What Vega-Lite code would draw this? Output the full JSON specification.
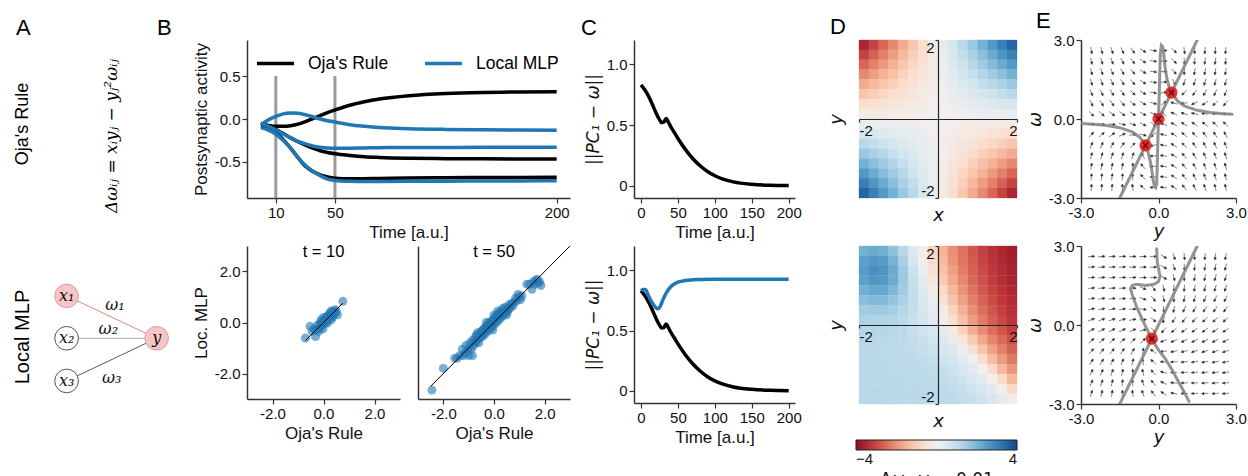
{
"$schema": "https://vega.github.io/schema/vega-lite/v6.json",
"background": "white",
"padding": {"left": 0, "top": 10, "right": 0, "bottom": 0},
"columns": 5,
"align": "each",
"bounds": "flush",
"spacing": {"row": 48, "column": 64},
"resolve": {"scale": {"fill": "independent", "stroke": "independent", "color": "independent"}, "legend": {"fill": "independent", "stroke": "independent", "color": "independent"}},
"config": {
  "view": {"stroke": null},
  "locale": {"number": {"decimal": ".", "thousands": ",", "grouping": [3], "currency": ["$", ""], "minus": "-"}},
  "axis": {"grid": false, "domainColor": "#333", "domainWidth": 1.5, "tickColor": "#333", "tickWidth": 1.2, "tickSize": 5, "labelFont": "Liberation Sans", "titleFont": "Liberation Sans", "labelFontSize": 15, "titleFontSize": 17, "titleFontWeight": "normal", "labelColor": "#111", "titleColor": "#111", "labelFlush": false, "labelOverlap": false},
  "title": {"font": "Liberation Sans", "fontSize": 22, "fontWeight": "normal", "color": "#000", "anchor": "start", "frame": "group"},
  "text": {"font": "Liberation Sans"}
},
"datasets": {
"act": [
{"m":"Oja's Rule","s":"o1","t":0,"v":-0.06},{"m":"Oja's Rule","s":"o1","t":5,"v":-0.075},{"m":"Oja's Rule","s":"o1","t":10,"v":-0.085},{"m":"Oja's Rule","s":"o1","t":15,"v":-0.085},{"m":"Oja's Rule","s":"o1","t":20,"v":-0.078},{"m":"Oja's Rule","s":"o1","t":25,"v":-0.06},{"m":"Oja's Rule","s":"o1","t":30,"v":-0.03},{"m":"Oja's Rule","s":"o1","t":35,"v":0.005},{"m":"Oja's Rule","s":"o1","t":40,"v":0.04},{"m":"Oja's Rule","s":"o1","t":45,"v":0.075},{"m":"Oja's Rule","s":"o1","t":50,"v":0.105},{"m":"Oja's Rule","s":"o1","t":60,"v":0.16},{"m":"Oja's Rule","s":"o1","t":70,"v":0.2},{"m":"Oja's Rule","s":"o1","t":80,"v":0.232},{"m":"Oja's Rule","s":"o1","t":100,"v":0.272},{"m":"Oja's Rule","s":"o1","t":125,"v":0.298},{"m":"Oja's Rule","s":"o1","t":150,"v":0.31},{"m":"Oja's Rule","s":"o1","t":175,"v":0.314},{"m":"Oja's Rule","s":"o1","t":200,"v":0.316},
{"m":"Oja's Rule","s":"o2","t":0,"v":-0.05},{"m":"Oja's Rule","s":"o2","t":5,"v":-0.08},{"m":"Oja's Rule","s":"o2","t":10,"v":-0.12},{"m":"Oja's Rule","s":"o2","t":15,"v":-0.17},{"m":"Oja's Rule","s":"o2","t":20,"v":-0.22},{"m":"Oja's Rule","s":"o2","t":25,"v":-0.265},{"m":"Oja's Rule","s":"o2","t":30,"v":-0.305},{"m":"Oja's Rule","s":"o2","t":35,"v":-0.34},{"m":"Oja's Rule","s":"o2","t":40,"v":-0.37},{"m":"Oja's Rule","s":"o2","t":45,"v":-0.39},{"m":"Oja's Rule","s":"o2","t":50,"v":-0.405},{"m":"Oja's Rule","s":"o2","t":60,"v":-0.425},{"m":"Oja's Rule","s":"o2","t":70,"v":-0.44},{"m":"Oja's Rule","s":"o2","t":80,"v":-0.448},{"m":"Oja's Rule","s":"o2","t":100,"v":-0.457},{"m":"Oja's Rule","s":"o2","t":125,"v":-0.462},{"m":"Oja's Rule","s":"o2","t":150,"v":-0.464},{"m":"Oja's Rule","s":"o2","t":175,"v":-0.465},{"m":"Oja's Rule","s":"o2","t":200,"v":-0.466},
{"m":"Oja's Rule","s":"o3","t":0,"v":-0.085},{"m":"Oja's Rule","s":"o3","t":5,"v":-0.115},{"m":"Oja's Rule","s":"o3","t":10,"v":-0.16},{"m":"Oja's Rule","s":"o3","t":15,"v":-0.24},{"m":"Oja's Rule","s":"o3","t":20,"v":-0.34},{"m":"Oja's Rule","s":"o3","t":25,"v":-0.45},{"m":"Oja's Rule","s":"o3","t":30,"v":-0.55},{"m":"Oja's Rule","s":"o3","t":35,"v":-0.61},{"m":"Oja's Rule","s":"o3","t":40,"v":-0.65},{"m":"Oja's Rule","s":"o3","t":45,"v":-0.675},{"m":"Oja's Rule","s":"o3","t":50,"v":-0.69},{"m":"Oja's Rule","s":"o3","t":60,"v":-0.697},{"m":"Oja's Rule","s":"o3","t":70,"v":-0.695},{"m":"Oja's Rule","s":"o3","t":80,"v":-0.692},{"m":"Oja's Rule","s":"o3","t":100,"v":-0.688},{"m":"Oja's Rule","s":"o3","t":125,"v":-0.684},{"m":"Oja's Rule","s":"o3","t":150,"v":-0.682},{"m":"Oja's Rule","s":"o3","t":175,"v":-0.68},{"m":"Oja's Rule","s":"o3","t":200,"v":-0.679},
{"m":"Local MLP","s":"m1","t":0,"v":-0.065},{"m":"Local MLP","s":"m1","t":5,"v":-0.01},{"m":"Local MLP","s":"m1","t":10,"v":0.03},{"m":"Local MLP","s":"m1","t":15,"v":0.06},{"m":"Local MLP","s":"m1","t":20,"v":0.07},{"m":"Local MLP","s":"m1","t":25,"v":0.066},{"m":"Local MLP","s":"m1","t":30,"v":0.05},{"m":"Local MLP","s":"m1","t":35,"v":0.026},{"m":"Local MLP","s":"m1","t":40,"v":0.0},{"m":"Local MLP","s":"m1","t":45,"v":-0.02},{"m":"Local MLP","s":"m1","t":50,"v":-0.035},{"m":"Local MLP","s":"m1","t":60,"v":-0.066},{"m":"Local MLP","s":"m1","t":70,"v":-0.085},{"m":"Local MLP","s":"m1","t":80,"v":-0.1},{"m":"Local MLP","s":"m1","t":100,"v":-0.113},{"m":"Local MLP","s":"m1","t":125,"v":-0.121},{"m":"Local MLP","s":"m1","t":150,"v":-0.125},{"m":"Local MLP","s":"m1","t":175,"v":-0.128},{"m":"Local MLP","s":"m1","t":200,"v":-0.13},
{"m":"Local MLP","s":"m2","t":0,"v":-0.05},{"m":"Local MLP","s":"m2","t":5,"v":-0.085},{"m":"Local MLP","s":"m2","t":10,"v":-0.125},{"m":"Local MLP","s":"m2","t":15,"v":-0.175},{"m":"Local MLP","s":"m2","t":20,"v":-0.22},{"m":"Local MLP","s":"m2","t":25,"v":-0.26},{"m":"Local MLP","s":"m2","t":30,"v":-0.29},{"m":"Local MLP","s":"m2","t":35,"v":-0.315},{"m":"Local MLP","s":"m2","t":40,"v":-0.33},{"m":"Local MLP","s":"m2","t":45,"v":-0.338},{"m":"Local MLP","s":"m2","t":50,"v":-0.34},{"m":"Local MLP","s":"m2","t":60,"v":-0.34},{"m":"Local MLP","s":"m2","t":70,"v":-0.337},{"m":"Local MLP","s":"m2","t":80,"v":-0.334},{"m":"Local MLP","s":"m2","t":100,"v":-0.332},{"m":"Local MLP","s":"m2","t":125,"v":-0.331},{"m":"Local MLP","s":"m2","t":150,"v":-0.33},{"m":"Local MLP","s":"m2","t":175,"v":-0.33},{"m":"Local MLP","s":"m2","t":200,"v":-0.33},
{"m":"Local MLP","s":"m3","t":0,"v":-0.1},{"m":"Local MLP","s":"m3","t":5,"v":-0.13},{"m":"Local MLP","s":"m3","t":10,"v":-0.175},{"m":"Local MLP","s":"m3","t":15,"v":-0.25},{"m":"Local MLP","s":"m3","t":20,"v":-0.34},{"m":"Local MLP","s":"m3","t":25,"v":-0.45},{"m":"Local MLP","s":"m3","t":30,"v":-0.54},{"m":"Local MLP","s":"m3","t":35,"v":-0.61},{"m":"Local MLP","s":"m3","t":40,"v":-0.66},{"m":"Local MLP","s":"m3","t":45,"v":-0.7},{"m":"Local MLP","s":"m3","t":50,"v":-0.715},{"m":"Local MLP","s":"m3","t":60,"v":-0.725},{"m":"Local MLP","s":"m3","t":70,"v":-0.727},{"m":"Local MLP","s":"m3","t":80,"v":-0.727},{"m":"Local MLP","s":"m3","t":100,"v":-0.725},{"m":"Local MLP","s":"m3","t":125,"v":-0.724},{"m":"Local MLP","s":"m3","t":150,"v":-0.722},{"m":"Local MLP","s":"m3","t":175,"v":-0.721},{"m":"Local MLP","s":"m3","t":200,"v":-0.72}
],
"vl": [{"t":10,"v":0.5,"v2":-0.92},{"t":50,"v":0.5,"v2":-0.92}],
"err": [
{"m":"O","t":0,"v":0.83},{"m":"O","t":5,"v":0.79},{"m":"O","t":10,"v":0.74},{"m":"O","t":15,"v":0.675},{"m":"O","t":20,"v":0.605},{"m":"O","t":25,"v":0.545},{"m":"O","t":28,"v":0.52},{"m":"O","t":31,"v":0.525},{"m":"O","t":34,"v":0.555},{"m":"O","t":37,"v":0.525},{"m":"O","t":40,"v":0.49},{"m":"O","t":45,"v":0.44},{"m":"O","t":50,"v":0.39},{"m":"O","t":60,"v":0.3},{"m":"O","t":70,"v":0.225},{"m":"O","t":80,"v":0.165},{"m":"O","t":90,"v":0.118},{"m":"O","t":100,"v":0.083},{"m":"O","t":110,"v":0.058},{"m":"O","t":125,"v":0.033},{"m":"O","t":150,"v":0.013},{"m":"O","t":175,"v":0.005},{"m":"O","t":200,"v":0.002},
{"m":"M","t":0,"v":0.83},{"m":"M","t":3,"v":0.84},{"m":"M","t":6,"v":0.84},{"m":"M","t":10,"v":0.79},{"m":"M","t":15,"v":0.73},{"m":"M","t":20,"v":0.69},{"m":"M","t":23,"v":0.68},{"m":"M","t":26,"v":0.7},{"m":"M","t":30,"v":0.76},{"m":"M","t":35,"v":0.82},{"m":"M","t":40,"v":0.86},{"m":"M","t":45,"v":0.885},{"m":"M","t":50,"v":0.9},{"m":"M","t":60,"v":0.915},{"m":"M","t":70,"v":0.92},{"m":"M","t":80,"v":0.922},{"m":"M","t":100,"v":0.924},{"m":"M","t":150,"v":0.925},{"m":"M","t":200,"v":0.925}
],
"sc": [
{"t":10,"o":-0.71,"l":-0.61},{"t":10,"o":0.76,"l":0.83},{"t":10,"o":-0.53,"l":-0.15},{"t":10,"o":-0.31,"l":-0.55},{"t":10,"o":-0.45,"l":-0.35},{"t":10,"o":-0.38,"l":-0.25},{"t":10,"o":-0.3,"l":-0.3},{"t":10,"o":-0.25,"l":-0.12},{"t":10,"o":-0.2,"l":-0.25},{"t":10,"o":-0.15,"l":-0.05},{"t":10,"o":-0.12,"l":-0.18},{"t":10,"o":-0.08,"l":0.0},{"t":10,"o":-0.05,"l":-0.1},{"t":10,"o":0.0,"l":0.05},{"t":10,"o":0.02,"l":-0.05},{"t":10,"o":0.05,"l":0.12},{"t":10,"o":0.08,"l":0.0},{"t":10,"o":0.1,"l":0.2},{"t":10,"o":0.12,"l":0.08},{"t":10,"o":0.15,"l":0.25},{"t":10,"o":0.18,"l":0.12},{"t":10,"o":0.2,"l":0.3},{"t":10,"o":0.22,"l":0.18},{"t":10,"o":0.25,"l":0.38},{"t":10,"o":0.28,"l":0.25},{"t":10,"o":0.3,"l":0.45},{"t":10,"o":0.32,"l":0.3},{"t":10,"o":0.35,"l":0.2},{"t":10,"o":0.38,"l":0.42},{"t":10,"o":0.4,"l":0.3},{"t":10,"o":0.45,"l":0.35},{"t":10,"o":0.5,"l":0.45},{"t":10,"o":0.55,"l":0.3},{"t":10,"o":-0.1,"l":0.1},{"t":10,"o":0.0,"l":0.2},{"t":10,"o":-0.18,"l":-0.35},{"t":10,"o":0.3,"l":0.1},{"t":10,"o":0.45,"l":0.5},{"t":10,"o":-0.02,"l":-0.25},{"t":10,"o":0.15,"l":-0.02},
{"t":50,"o":-2.45,"l":-2.65},{"t":50,"o":-2.0,"l":-1.8},{"t":50,"o":-1.55,"l":-1.4},{"t":50,"o":-1.35,"l":-1.3},{"t":50,"o":-1.25,"l":-1.05},{"t":50,"o":-1.15,"l":-1.2},{"t":50,"o":-1.1,"l":-0.9},{"t":50,"o":-1.05,"l":-1.1},{"t":50,"o":-1.0,"l":-1.0},{"t":50,"o":-0.95,"l":-0.8},{"t":50,"o":-0.9,"l":-1.05},{"t":50,"o":-0.85,"l":-1.3},{"t":50,"o":-0.85,"l":-0.7},{"t":50,"o":-0.8,"l":-0.9},{"t":50,"o":-0.75,"l":-0.6},{"t":50,"o":-0.75,"l":-0.8},{"t":50,"o":-0.7,"l":-0.75},{"t":50,"o":-0.7,"l":-0.5},{"t":50,"o":-0.65,"l":-0.65},{"t":50,"o":-0.6,"l":-0.55},{"t":50,"o":-0.6,"l":-0.8},{"t":50,"o":-0.55,"l":-0.45},{"t":50,"o":-0.55,"l":-0.6},{"t":50,"o":-0.5,"l":-0.5},{"t":50,"o":-0.5,"l":-0.35},{"t":50,"o":-0.45,"l":-0.55},{"t":50,"o":-0.45,"l":-0.3},{"t":50,"o":-0.4,"l":-0.4},{"t":50,"o":-0.4,"l":-0.25},{"t":50,"o":-0.35,"l":-0.45},{"t":50,"o":-0.35,"l":-0.2},{"t":50,"o":-0.3,"l":-0.3},{"t":50,"o":-0.3,"l":-0.15},{"t":50,"o":-0.25,"l":-0.35},{"t":50,"o":-0.25,"l":-0.1},{"t":50,"o":-0.2,"l":-0.2},{"t":50,"o":-0.2,"l":0.0},{"t":50,"o":-0.15,"l":-0.25},{"t":50,"o":-0.15,"l":-0.05},{"t":50,"o":-0.1,"l":-0.1},{"t":50,"o":-0.1,"l":0.05},{"t":50,"o":-0.05,"l":-0.15},{"t":50,"o":-0.05,"l":0.1},{"t":50,"o":0.0,"l":0.0},{"t":50,"o":0.0,"l":0.15},{"t":50,"o":0.05,"l":-0.05},{"t":50,"o":0.05,"l":0.2},{"t":50,"o":0.1,"l":0.1},{"t":50,"o":0.1,"l":0.25},{"t":50,"o":0.15,"l":0.05},{"t":50,"o":0.15,"l":0.3},{"t":50,"o":0.2,"l":0.2},{"t":50,"o":0.2,"l":0.35},{"t":50,"o":0.25,"l":0.15},{"t":50,"o":0.3,"l":0.3},{"t":50,"o":0.3,"l":0.45},{"t":50,"o":0.35,"l":0.25},{"t":50,"o":0.35,"l":0.55},{"t":50,"o":0.4,"l":0.4},{"t":50,"o":0.45,"l":0.35},{"t":50,"o":0.45,"l":0.6},{"t":50,"o":0.5,"l":0.5},{"t":50,"o":0.55,"l":0.45},{"t":50,"o":0.6,"l":0.7},{"t":50,"o":0.6,"l":0.55},{"t":50,"o":0.65,"l":0.6},{"t":50,"o":0.7,"l":0.75},{"t":50,"o":0.75,"l":0.65},{"t":50,"o":0.8,"l":0.8},{"t":50,"o":0.85,"l":0.95},{"t":50,"o":0.9,"l":0.85},{"t":50,"o":0.95,"l":1.1},{"t":50,"o":1.0,"l":1.0},{"t":50,"o":1.05,"l":0.9},{"t":50,"o":1.1,"l":1.05},{"t":50,"o":-1.2,"l":-1.3},{"t":50,"o":-1.0,"l":-1.3},{"t":50,"o":-0.65,"l":-0.4},{"t":50,"o":0.25,"l":0.4},{"t":50,"o":-0.05,"l":-0.3},{"t":50,"o":1.3,"l":1.5},{"t":50,"o":1.4,"l":1.5},{"t":50,"o":1.5,"l":1.3},{"t":50,"o":1.6,"l":1.5},{"t":50,"o":1.65,"l":1.65},{"t":50,"o":1.7,"l":1.7},{"t":50,"o":1.75,"l":1.55},{"t":50,"o":1.8,"l":1.6},{"t":50,"o":1.85,"l":1.45},{"t":50,"o":1.55,"l":1.6},{"t":50,"o":0.0,"l":0.3},{"t":50,"o":-0.3,"l":0.0},{"t":50,"o":0.5,"l":0.3},{"t":50,"o":0.15,"l":0.45},{"t":50,"o":-1.45,"l":-1.4}
],
"diag": [{"t":10,"o":-0.71,"l":-0.71},{"t":10,"o":0.76,"l":0.76},{"t":50,"o":-2.5,"l":-2.5},{"t":50,"o":3,"l":3}],
"stit": [{"t":10,"o":0,"l":2.76,"txt":"t = 10"},{"t":50,"o":0,"l":2.76,"txt":"t = 50"}],
"hO": [
{"x":-1.875,"y":1.875,"v":-3.52},{"x":-1.625,"y":1.875,"v":-3.05},{"x":-1.375,"y":1.875,"v":-2.58},{"x":-1.125,"y":1.875,"v":-2.11},{"x":-0.875,"y":1.875,"v":-1.64},{"x":-0.625,"y":1.875,"v":-1.17},{"x":-0.375,"y":1.875,"v":-0.7},{"x":-0.125,"y":1.875,"v":-0.23},{"x":0.125,"y":1.875,"v":0.23},{"x":0.375,"y":1.875,"v":0.7},{"x":0.625,"y":1.875,"v":1.17},{"x":0.875,"y":1.875,"v":1.64},{"x":1.125,"y":1.875,"v":2.11},{"x":1.375,"y":1.875,"v":2.58},{"x":1.625,"y":1.875,"v":3.05},{"x":1.875,"y":1.875,"v":3.52},
{"x":-1.875,"y":1.625,"v":-3.05},{"x":-1.625,"y":1.625,"v":-2.64},{"x":-1.375,"y":1.625,"v":-2.23},{"x":-1.125,"y":1.625,"v":-1.83},{"x":-0.875,"y":1.625,"v":-1.42},{"x":-0.625,"y":1.625,"v":-1.02},{"x":-0.375,"y":1.625,"v":-0.61},{"x":-0.125,"y":1.625,"v":-0.2},{"x":0.125,"y":1.625,"v":0.2},{"x":0.375,"y":1.625,"v":0.61},{"x":0.625,"y":1.625,"v":1.02},{"x":0.875,"y":1.625,"v":1.42},{"x":1.125,"y":1.625,"v":1.83},{"x":1.375,"y":1.625,"v":2.23},{"x":1.625,"y":1.625,"v":2.64},{"x":1.875,"y":1.625,"v":3.05},
{"x":-1.875,"y":1.375,"v":-2.58},{"x":-1.625,"y":1.375,"v":-2.23},{"x":-1.375,"y":1.375,"v":-1.89},{"x":-1.125,"y":1.375,"v":-1.55},{"x":-0.875,"y":1.375,"v":-1.2},{"x":-0.625,"y":1.375,"v":-0.86},{"x":-0.375,"y":1.375,"v":-0.52},{"x":-0.125,"y":1.375,"v":-0.17},{"x":0.125,"y":1.375,"v":0.17},{"x":0.375,"y":1.375,"v":0.52},{"x":0.625,"y":1.375,"v":0.86},{"x":0.875,"y":1.375,"v":1.2},{"x":1.125,"y":1.375,"v":1.55},{"x":1.375,"y":1.375,"v":1.89},{"x":1.625,"y":1.375,"v":2.23},{"x":1.875,"y":1.375,"v":2.58},
{"x":-1.875,"y":1.125,"v":-2.11},{"x":-1.625,"y":1.125,"v":-1.83},{"x":-1.375,"y":1.125,"v":-1.55},{"x":-1.125,"y":1.125,"v":-1.27},{"x":-0.875,"y":1.125,"v":-0.98},{"x":-0.625,"y":1.125,"v":-0.7},{"x":-0.375,"y":1.125,"v":-0.42},{"x":-0.125,"y":1.125,"v":-0.14},{"x":0.125,"y":1.125,"v":0.14},{"x":0.375,"y":1.125,"v":0.42},{"x":0.625,"y":1.125,"v":0.7},{"x":0.875,"y":1.125,"v":0.98},{"x":1.125,"y":1.125,"v":1.27},{"x":1.375,"y":1.125,"v":1.55},{"x":1.625,"y":1.125,"v":1.83},{"x":1.875,"y":1.125,"v":2.11},
{"x":-1.875,"y":0.875,"v":-1.64},{"x":-1.625,"y":0.875,"v":-1.42},{"x":-1.375,"y":0.875,"v":-1.2},{"x":-1.125,"y":0.875,"v":-0.98},{"x":-0.875,"y":0.875,"v":-0.77},{"x":-0.625,"y":0.875,"v":-0.55},{"x":-0.375,"y":0.875,"v":-0.33},{"x":-0.125,"y":0.875,"v":-0.11},{"x":0.125,"y":0.875,"v":0.11},{"x":0.375,"y":0.875,"v":0.33},{"x":0.625,"y":0.875,"v":0.55},{"x":0.875,"y":0.875,"v":0.77},{"x":1.125,"y":0.875,"v":0.98},{"x":1.375,"y":0.875,"v":1.2},{"x":1.625,"y":0.875,"v":1.42},{"x":1.875,"y":0.875,"v":1.64},
{"x":-1.875,"y":0.625,"v":-1.17},{"x":-1.625,"y":0.625,"v":-1.02},{"x":-1.375,"y":0.625,"v":-0.86},{"x":-1.125,"y":0.625,"v":-0.7},{"x":-0.875,"y":0.625,"v":-0.55},{"x":-0.625,"y":0.625,"v":-0.39},{"x":-0.375,"y":0.625,"v":-0.23},{"x":-0.125,"y":0.625,"v":-0.08},{"x":0.125,"y":0.625,"v":0.08},{"x":0.375,"y":0.625,"v":0.23},{"x":0.625,"y":0.625,"v":0.39},{"x":0.875,"y":0.625,"v":0.55},{"x":1.125,"y":0.625,"v":0.7},{"x":1.375,"y":0.625,"v":0.86},{"x":1.625,"y":0.625,"v":1.02},{"x":1.875,"y":0.625,"v":1.17},
{"x":-1.875,"y":0.375,"v":-0.7},{"x":-1.625,"y":0.375,"v":-0.61},{"x":-1.375,"y":0.375,"v":-0.52},{"x":-1.125,"y":0.375,"v":-0.42},{"x":-0.875,"y":0.375,"v":-0.33},{"x":-0.625,"y":0.375,"v":-0.23},{"x":-0.375,"y":0.375,"v":-0.14},{"x":-0.125,"y":0.375,"v":-0.05},{"x":0.125,"y":0.375,"v":0.05},{"x":0.375,"y":0.375,"v":0.14},{"x":0.625,"y":0.375,"v":0.23},{"x":0.875,"y":0.375,"v":0.33},{"x":1.125,"y":0.375,"v":0.42},{"x":1.375,"y":0.375,"v":0.52},{"x":1.625,"y":0.375,"v":0.61},{"x":1.875,"y":0.375,"v":0.7},
{"x":-1.875,"y":0.125,"v":-0.23},{"x":-1.625,"y":0.125,"v":-0.2},{"x":-1.375,"y":0.125,"v":-0.17},{"x":-1.125,"y":0.125,"v":-0.14},{"x":-0.875,"y":0.125,"v":-0.11},{"x":-0.625,"y":0.125,"v":-0.08},{"x":-0.375,"y":0.125,"v":-0.05},{"x":-0.125,"y":0.125,"v":-0.02},{"x":0.125,"y":0.125,"v":0.02},{"x":0.375,"y":0.125,"v":0.05},{"x":0.625,"y":0.125,"v":0.08},{"x":0.875,"y":0.125,"v":0.11},{"x":1.125,"y":0.125,"v":0.14},{"x":1.375,"y":0.125,"v":0.17},{"x":1.625,"y":0.125,"v":0.2},{"x":1.875,"y":0.125,"v":0.23},
{"x":-1.875,"y":-0.125,"v":0.23},{"x":-1.625,"y":-0.125,"v":0.2},{"x":-1.375,"y":-0.125,"v":0.17},{"x":-1.125,"y":-0.125,"v":0.14},{"x":-0.875,"y":-0.125,"v":0.11},{"x":-0.625,"y":-0.125,"v":0.08},{"x":-0.375,"y":-0.125,"v":0.05},{"x":-0.125,"y":-0.125,"v":0.02},{"x":0.125,"y":-0.125,"v":-0.02},{"x":0.375,"y":-0.125,"v":-0.05},{"x":0.625,"y":-0.125,"v":-0.08},{"x":0.875,"y":-0.125,"v":-0.11},{"x":1.125,"y":-0.125,"v":-0.14},{"x":1.375,"y":-0.125,"v":-0.17},{"x":1.625,"y":-0.125,"v":-0.2},{"x":1.875,"y":-0.125,"v":-0.23},
{"x":-1.875,"y":-0.375,"v":0.7},{"x":-1.625,"y":-0.375,"v":0.61},{"x":-1.375,"y":-0.375,"v":0.52},{"x":-1.125,"y":-0.375,"v":0.42},{"x":-0.875,"y":-0.375,"v":0.33},{"x":-0.625,"y":-0.375,"v":0.23},{"x":-0.375,"y":-0.375,"v":0.14},{"x":-0.125,"y":-0.375,"v":0.05},{"x":0.125,"y":-0.375,"v":-0.05},{"x":0.375,"y":-0.375,"v":-0.14},{"x":0.625,"y":-0.375,"v":-0.23},{"x":0.875,"y":-0.375,"v":-0.33},{"x":1.125,"y":-0.375,"v":-0.42},{"x":1.375,"y":-0.375,"v":-0.52},{"x":1.625,"y":-0.375,"v":-0.61},{"x":1.875,"y":-0.375,"v":-0.7},
{"x":-1.875,"y":-0.625,"v":1.17},{"x":-1.625,"y":-0.625,"v":1.02},{"x":-1.375,"y":-0.625,"v":0.86},{"x":-1.125,"y":-0.625,"v":0.7},{"x":-0.875,"y":-0.625,"v":0.55},{"x":-0.625,"y":-0.625,"v":0.39},{"x":-0.375,"y":-0.625,"v":0.23},{"x":-0.125,"y":-0.625,"v":0.08},{"x":0.125,"y":-0.625,"v":-0.08},{"x":0.375,"y":-0.625,"v":-0.23},{"x":0.625,"y":-0.625,"v":-0.39},{"x":0.875,"y":-0.625,"v":-0.55},{"x":1.125,"y":-0.625,"v":-0.7},{"x":1.375,"y":-0.625,"v":-0.86},{"x":1.625,"y":-0.625,"v":-1.02},{"x":1.875,"y":-0.625,"v":-1.17},
{"x":-1.875,"y":-0.875,"v":1.64},{"x":-1.625,"y":-0.875,"v":1.42},{"x":-1.375,"y":-0.875,"v":1.2},{"x":-1.125,"y":-0.875,"v":0.98},{"x":-0.875,"y":-0.875,"v":0.77},{"x":-0.625,"y":-0.875,"v":0.55},{"x":-0.375,"y":-0.875,"v":0.33},{"x":-0.125,"y":-0.875,"v":0.11},{"x":0.125,"y":-0.875,"v":-0.11},{"x":0.375,"y":-0.875,"v":-0.33},{"x":0.625,"y":-0.875,"v":-0.55},{"x":0.875,"y":-0.875,"v":-0.77},{"x":1.125,"y":-0.875,"v":-0.98},{"x":1.375,"y":-0.875,"v":-1.2},{"x":1.625,"y":-0.875,"v":-1.42},{"x":1.875,"y":-0.875,"v":-1.64},
{"x":-1.875,"y":-1.125,"v":2.11},{"x":-1.625,"y":-1.125,"v":1.83},{"x":-1.375,"y":-1.125,"v":1.55},{"x":-1.125,"y":-1.125,"v":1.27},{"x":-0.875,"y":-1.125,"v":0.98},{"x":-0.625,"y":-1.125,"v":0.7},{"x":-0.375,"y":-1.125,"v":0.42},{"x":-0.125,"y":-1.125,"v":0.14},{"x":0.125,"y":-1.125,"v":-0.14},{"x":0.375,"y":-1.125,"v":-0.42},{"x":0.625,"y":-1.125,"v":-0.7},{"x":0.875,"y":-1.125,"v":-0.98},{"x":1.125,"y":-1.125,"v":-1.27},{"x":1.375,"y":-1.125,"v":-1.55},{"x":1.625,"y":-1.125,"v":-1.83},{"x":1.875,"y":-1.125,"v":-2.11},
{"x":-1.875,"y":-1.375,"v":2.58},{"x":-1.625,"y":-1.375,"v":2.23},{"x":-1.375,"y":-1.375,"v":1.89},{"x":-1.125,"y":-1.375,"v":1.55},{"x":-0.875,"y":-1.375,"v":1.2},{"x":-0.625,"y":-1.375,"v":0.86},{"x":-0.375,"y":-1.375,"v":0.52},{"x":-0.125,"y":-1.375,"v":0.17},{"x":0.125,"y":-1.375,"v":-0.17},{"x":0.375,"y":-1.375,"v":-0.52},{"x":0.625,"y":-1.375,"v":-0.86},{"x":0.875,"y":-1.375,"v":-1.2},{"x":1.125,"y":-1.375,"v":-1.55},{"x":1.375,"y":-1.375,"v":-1.89},{"x":1.625,"y":-1.375,"v":-2.23},{"x":1.875,"y":-1.375,"v":-2.58},
{"x":-1.875,"y":-1.625,"v":3.05},{"x":-1.625,"y":-1.625,"v":2.64},{"x":-1.375,"y":-1.625,"v":2.23},{"x":-1.125,"y":-1.625,"v":1.83},{"x":-0.875,"y":-1.625,"v":1.42},{"x":-0.625,"y":-1.625,"v":1.02},{"x":-0.375,"y":-1.625,"v":0.61},{"x":-0.125,"y":-1.625,"v":0.2},{"x":0.125,"y":-1.625,"v":-0.2},{"x":0.375,"y":-1.625,"v":-0.61},{"x":0.625,"y":-1.625,"v":-1.02},{"x":0.875,"y":-1.625,"v":-1.42},{"x":1.125,"y":-1.625,"v":-1.83},{"x":1.375,"y":-1.625,"v":-2.23},{"x":1.625,"y":-1.625,"v":-2.64},{"x":1.875,"y":-1.625,"v":-3.05},
{"x":-1.875,"y":-1.875,"v":3.52},{"x":-1.625,"y":-1.875,"v":3.05},{"x":-1.375,"y":-1.875,"v":2.58},{"x":-1.125,"y":-1.875,"v":2.11},{"x":-0.875,"y":-1.875,"v":1.64},{"x":-0.625,"y":-1.875,"v":1.17},{"x":-0.375,"y":-1.875,"v":0.7},{"x":-0.125,"y":-1.875,"v":0.23},{"x":0.125,"y":-1.875,"v":-0.23},{"x":0.375,"y":-1.875,"v":-0.7},{"x":0.625,"y":-1.875,"v":-1.17},{"x":0.875,"y":-1.875,"v":-1.64},{"x":1.125,"y":-1.875,"v":-2.11},{"x":1.375,"y":-1.875,"v":-2.58},{"x":1.625,"y":-1.875,"v":-3.05},{"x":1.875,"y":-1.875,"v":-3.52}
],
"hM": [
{"x":-1.875,"y":1.875,"v":2.13},{"x":-1.625,"y":1.875,"v":2.25},{"x":-1.375,"y":1.875,"v":2.14},{"x":-1.125,"y":1.875,"v":1.77},{"x":-0.875,"y":1.875,"v":1.18},{"x":-0.625,"y":1.875,"v":0.54},{"x":-0.375,"y":1.875,"v":-0.18},{"x":-0.125,"y":1.875,"v":-0.92},{"x":0.125,"y":1.875,"v":-1.53},{"x":0.375,"y":1.875,"v":-2.03},{"x":0.625,"y":1.875,"v":-2.43},{"x":0.875,"y":1.875,"v":-2.79},{"x":1.125,"y":1.875,"v":-3.07},{"x":1.375,"y":1.875,"v":-3.3},{"x":1.625,"y":1.875,"v":-3.49},{"x":1.875,"y":1.875,"v":-3.65},
{"x":-1.875,"y":1.625,"v":2.41},{"x":-1.625,"y":1.625,"v":2.59},{"x":-1.375,"y":1.625,"v":2.49},{"x":-1.125,"y":1.625,"v":2.06},{"x":-0.875,"y":1.625,"v":1.41},{"x":-0.625,"y":1.625,"v":0.69},{"x":-0.375,"y":1.625,"v":-0.02},{"x":-0.125,"y":1.625,"v":-0.78},{"x":0.125,"y":1.625,"v":-1.41},{"x":0.375,"y":1.625,"v":-1.93},{"x":0.625,"y":1.625,"v":-2.37},{"x":0.875,"y":1.625,"v":-2.73},{"x":1.125,"y":1.625,"v":-3.02},{"x":1.375,"y":1.625,"v":-3.26},{"x":1.625,"y":1.625,"v":-3.45},{"x":1.875,"y":1.625,"v":-3.62},
{"x":-1.875,"y":1.375,"v":2.51},{"x":-1.625,"y":1.375,"v":2.74},{"x":-1.375,"y":1.375,"v":2.66},{"x":-1.125,"y":1.375,"v":2.23},{"x":-0.875,"y":1.375,"v":1.6},{"x":-0.625,"y":1.375,"v":0.88},{"x":-0.375,"y":1.375,"v":0.17},{"x":-0.125,"y":1.375,"v":-0.59},{"x":0.125,"y":1.375,"v":-1.26},{"x":0.375,"y":1.375,"v":-1.8},{"x":0.625,"y":1.375,"v":-2.26},{"x":0.875,"y":1.375,"v":-2.63},{"x":1.125,"y":1.375,"v":-2.94},{"x":1.375,"y":1.375,"v":-3.19},{"x":1.625,"y":1.375,"v":-3.4},{"x":1.875,"y":1.375,"v":-3.58},
{"x":-1.875,"y":1.125,"v":2.39},{"x":-1.625,"y":1.125,"v":2.61},{"x":-1.375,"y":1.125,"v":2.57},{"x":-1.125,"y":1.125,"v":2.2},{"x":-0.875,"y":1.125,"v":1.61},{"x":-0.625,"y":1.125,"v":0.97},{"x":-0.375,"y":1.125,"v":0.34},{"x":-0.125,"y":1.125,"v":-0.38},{"x":0.125,"y":1.125,"v":-1.08},{"x":0.375,"y":1.125,"v":-1.66},{"x":0.625,"y":1.125,"v":-2.14},{"x":0.875,"y":1.125,"v":-2.53},{"x":1.125,"y":1.125,"v":-2.86},{"x":1.375,"y":1.125,"v":-3.13},{"x":1.625,"y":1.125,"v":-3.35},{"x":1.875,"y":1.125,"v":-3.53},
{"x":-1.875,"y":0.875,"v":2.12},{"x":-1.625,"y":0.875,"v":2.29},{"x":-1.375,"y":0.875,"v":2.28},{"x":-1.125,"y":0.875,"v":1.98},{"x":-0.875,"y":0.875,"v":1.54},{"x":-0.625,"y":0.875,"v":1.02},{"x":-0.375,"y":0.875,"v":0.49},{"x":-0.125,"y":0.875,"v":-0.08},{"x":0.125,"y":0.875,"v":-0.84},{"x":0.375,"y":0.875,"v":-1.46},{"x":0.625,"y":0.875,"v":-1.97},{"x":0.875,"y":0.875,"v":-2.4},{"x":1.125,"y":0.875,"v":-2.76},{"x":1.375,"y":0.875,"v":-3.04},{"x":1.625,"y":0.875,"v":-3.28},{"x":1.875,"y":0.875,"v":-3.47},
{"x":-1.875,"y":0.625,"v":1.82},{"x":-1.625,"y":0.625,"v":1.93},{"x":-1.375,"y":0.625,"v":1.9},{"x":-1.125,"y":0.625,"v":1.71},{"x":-0.875,"y":0.625,"v":1.4},{"x":-0.625,"y":0.625,"v":1.02},{"x":-0.375,"y":0.625,"v":0.61},{"x":-0.125,"y":0.625,"v":0.16},{"x":0.125,"y":0.625,"v":-0.56},{"x":0.375,"y":0.625,"v":-1.23},{"x":0.625,"y":0.625,"v":-1.78},{"x":0.875,"y":0.625,"v":-2.24},{"x":1.125,"y":0.625,"v":-2.62},{"x":1.375,"y":0.625,"v":-2.93},{"x":1.625,"y":0.625,"v":-3.19},{"x":1.875,"y":0.625,"v":-3.39},
{"x":-1.875,"y":0.375,"v":1.54},{"x":-1.625,"y":0.375,"v":1.6},{"x":-1.375,"y":0.375,"v":1.58},{"x":-1.125,"y":0.375,"v":1.45},{"x":-0.875,"y":0.375,"v":1.25},{"x":-0.625,"y":0.375,"v":0.99},{"x":-0.375,"y":0.375,"v":0.7},{"x":-0.125,"y":0.375,"v":0.34},{"x":0.125,"y":0.375,"v":-0.21},{"x":0.375,"y":0.375,"v":-0.95},{"x":0.625,"y":0.375,"v":-1.55},{"x":0.875,"y":0.375,"v":-2.05},{"x":1.125,"y":0.375,"v":-2.45},{"x":1.375,"y":0.375,"v":-2.79},{"x":1.625,"y":0.375,"v":-3.08},{"x":1.875,"y":0.375,"v":-3.31},
{"x":-1.875,"y":0.125,"v":1.36},{"x":-1.625,"y":0.125,"v":1.37},{"x":-1.375,"y":0.125,"v":1.34},{"x":-1.125,"y":0.125,"v":1.27},{"x":-0.875,"y":0.125,"v":1.13},{"x":-0.625,"y":0.125,"v":0.96},{"x":-0.375,"y":0.125,"v":0.76},{"x":-0.125,"y":0.125,"v":0.48},{"x":0.125,"y":0.125,"v":0.09},{"x":0.375,"y":0.125,"v":-0.64},{"x":0.625,"y":0.125,"v":-1.3},{"x":0.875,"y":0.125,"v":-1.84},{"x":1.125,"y":0.125,"v":-2.29},{"x":1.375,"y":0.125,"v":-2.66},{"x":1.625,"y":0.125,"v":-2.97},{"x":1.875,"y":0.125,"v":-3.22},
{"x":-1.875,"y":-0.125,"v":1.24},{"x":-1.625,"y":-0.125,"v":1.25},{"x":-1.375,"y":-0.125,"v":1.23},{"x":-1.125,"y":-0.125,"v":1.18},{"x":-0.875,"y":-0.125,"v":1.1},{"x":-0.625,"y":-0.125,"v":0.99},{"x":-0.375,"y":-0.125,"v":0.84},{"x":-0.125,"y":-0.125,"v":0.62},{"x":0.125,"y":-0.125,"v":0.3},{"x":0.375,"y":-0.125,"v":-0.25},{"x":0.625,"y":-0.125,"v":-0.97},{"x":0.875,"y":-0.125,"v":-1.58},{"x":1.125,"y":-0.125,"v":-2.07},{"x":1.375,"y":-0.125,"v":-2.47},{"x":1.625,"y":-0.125,"v":-2.81},{"x":1.875,"y":-0.125,"v":-3.09},
{"x":-1.875,"y":-0.375,"v":1.2},{"x":-1.625,"y":-0.375,"v":1.19},{"x":-1.375,"y":-0.375,"v":1.17},{"x":-1.125,"y":-0.375,"v":1.14},{"x":-0.875,"y":-0.375,"v":1.09},{"x":-0.625,"y":-0.375,"v":1.03},{"x":-0.375,"y":-0.375,"v":0.93},{"x":-0.125,"y":-0.375,"v":0.78},{"x":0.125,"y":-0.375,"v":0.56},{"x":0.375,"y":-0.375,"v":0.23},{"x":0.625,"y":-0.375,"v":-0.4},{"x":0.875,"y":-0.375,"v":-1.1},{"x":1.125,"y":-0.375,"v":-1.68},{"x":1.375,"y":-0.375,"v":-2.15},{"x":1.625,"y":-0.375,"v":-2.54},{"x":1.875,"y":-0.375,"v":-2.87},
{"x":-1.875,"y":-0.625,"v":1.19},{"x":-1.625,"y":-0.625,"v":1.18},{"x":-1.375,"y":-0.625,"v":1.16},{"x":-1.125,"y":-0.625,"v":1.14},{"x":-0.875,"y":-0.625,"v":1.11},{"x":-0.625,"y":-0.625,"v":1.07},{"x":-0.375,"y":-0.625,"v":1.0},{"x":-0.125,"y":-0.625,"v":0.9},{"x":0.125,"y":-0.625,"v":0.74},{"x":0.375,"y":-0.625,"v":0.5},{"x":0.625,"y":-0.625,"v":0.14},{"x":0.875,"y":-0.625,"v":-0.56},{"x":1.125,"y":-0.625,"v":-1.23},{"x":1.375,"y":-0.625,"v":-1.78},{"x":1.625,"y":-0.625,"v":-2.24},{"x":1.875,"y":-0.625,"v":-2.62},
{"x":-1.875,"y":-0.875,"v":1.19},{"x":-1.625,"y":-0.875,"v":1.18},{"x":-1.375,"y":-0.875,"v":1.17},{"x":-1.125,"y":-0.875,"v":1.16},{"x":-0.875,"y":-0.875,"v":1.14},{"x":-0.625,"y":-0.875,"v":1.11},{"x":-0.375,"y":-0.875,"v":1.06},{"x":-0.125,"y":-0.875,"v":0.98},{"x":0.125,"y":-0.875,"v":0.87},{"x":0.375,"y":-0.875,"v":0.7},{"x":0.625,"y":-0.875,"v":0.44},{"x":0.875,"y":-0.875,"v":0.05},{"x":1.125,"y":-0.875,"v":-0.71},{"x":1.375,"y":-0.875,"v":-1.35},{"x":1.625,"y":-0.875,"v":-1.87},{"x":1.875,"y":-0.875,"v":-2.32},
{"x":-1.875,"y":-1.125,"v":1.2},{"x":-1.625,"y":-1.125,"v":1.19},{"x":-1.375,"y":-1.125,"v":1.18},{"x":-1.125,"y":-1.125,"v":1.17},{"x":-0.875,"y":-1.125,"v":1.15},{"x":-0.625,"y":-1.125,"v":1.14},{"x":-0.375,"y":-1.125,"v":1.1},{"x":-0.125,"y":-1.125,"v":1.05},{"x":0.125,"y":-1.125,"v":0.97},{"x":0.375,"y":-1.125,"v":0.85},{"x":0.625,"y":-1.125,"v":0.67},{"x":0.875,"y":-1.125,"v":0.4},{"x":1.125,"y":-1.125,"v":-0.02},{"x":1.375,"y":-1.125,"v":-0.78},{"x":1.625,"y":-1.125,"v":-1.41},{"x":1.875,"y":-1.125,"v":-1.93},
{"x":-1.875,"y":-1.375,"v":1.19},{"x":-1.625,"y":-1.375,"v":1.19},{"x":-1.375,"y":-1.375,"v":1.18},{"x":-1.125,"y":-1.375,"v":1.18},{"x":-0.875,"y":-1.375,"v":1.17},{"x":-0.625,"y":-1.375,"v":1.15},{"x":-0.375,"y":-1.375,"v":1.14},{"x":-0.125,"y":-1.375,"v":1.1},{"x":0.125,"y":-1.375,"v":1.05},{"x":0.375,"y":-1.375,"v":0.97},{"x":0.625,"y":-1.375,"v":0.85},{"x":0.875,"y":-1.375,"v":0.67},{"x":1.125,"y":-1.375,"v":0.4},{"x":1.375,"y":-1.375,"v":-0.02},{"x":1.625,"y":-1.375,"v":-0.78},{"x":1.875,"y":-1.375,"v":-1.41},
{"x":-1.875,"y":-1.625,"v":1.2},{"x":-1.625,"y":-1.625,"v":1.19},{"x":-1.375,"y":-1.625,"v":1.19},{"x":-1.125,"y":-1.625,"v":1.18},{"x":-0.875,"y":-1.625,"v":1.18},{"x":-0.625,"y":-1.625,"v":1.17},{"x":-0.375,"y":-1.625,"v":1.15},{"x":-0.125,"y":-1.625,"v":1.13},{"x":0.125,"y":-1.625,"v":1.09},{"x":0.375,"y":-1.625,"v":1.04},{"x":0.625,"y":-1.625,"v":0.96},{"x":0.875,"y":-1.625,"v":0.84},{"x":1.125,"y":-1.625,"v":0.66},{"x":1.375,"y":-1.625,"v":0.37},{"x":1.625,"y":-1.625,"v":-0.08},{"x":1.875,"y":-1.625,"v":-0.84},
{"x":-1.875,"y":-1.875,"v":1.2},{"x":-1.625,"y":-1.875,"v":1.2},{"x":-1.375,"y":-1.875,"v":1.19},{"x":-1.125,"y":-1.875,"v":1.19},{"x":-0.875,"y":-1.875,"v":1.18},{"x":-0.625,"y":-1.875,"v":1.18},{"x":-0.375,"y":-1.875,"v":1.17},{"x":-0.125,"y":-1.875,"v":1.15},{"x":0.125,"y":-1.875,"v":1.13},{"x":0.375,"y":-1.875,"v":1.09},{"x":0.625,"y":-1.875,"v":1.04},{"x":0.875,"y":-1.875,"v":0.96},{"x":1.125,"y":-1.875,"v":0.84},{"x":1.375,"y":-1.875,"v":0.66},{"x":1.625,"y":-1.875,"v":0.37},{"x":1.875,"y":-1.875,"v":-0.08}
],
"qO": [
{"y":-2.6,"w":2.6,"a":78},{"y":-2.2,"w":2.6,"a":76},{"y":-1.8,"w":2.6,"a":72},{"y":-1.4,"w":2.6,"a":65},{"y":-1.0,"w":2.6,"a":53},{"y":-0.6,"w":2.6,"a":33},{"y":-0.2,"w":2.6,"a":8},{"y":0.2,"w":2.6,"a":0},{"y":0.6,"w":2.6,"a":42},{"y":1.0,"w":2.6,"a":82},{"y":1.4,"w":2.6,"a":91},{"y":1.8,"w":2.6,"a":94},{"y":2.2,"w":2.6,"a":94},{"y":2.6,"w":2.6,"a":95},
{"y":-2.6,"w":2.2,"a":77},{"y":-2.2,"w":2.2,"a":74},{"y":-1.8,"w":2.2,"a":70},{"y":-1.4,"w":2.2,"a":63},{"y":-1.0,"w":2.2,"a":52},{"y":-0.6,"w":2.2,"a":33},{"y":-0.2,"w":2.2,"a":8},{"y":0.2,"w":2.2,"a":-1},{"y":0.6,"w":2.2,"a":44},{"y":1.0,"w":2.2,"a":87},{"y":1.4,"w":2.2,"a":95},{"y":1.8,"w":2.2,"a":96},{"y":2.2,"w":2.2,"a":97},{"y":2.6,"w":2.2,"a":96},
{"y":-2.6,"w":1.8,"a":75},{"y":-2.2,"w":1.8,"a":72},{"y":-1.8,"w":1.8,"a":68},{"y":-1.4,"w":1.8,"a":61},{"y":-1.0,"w":1.8,"a":50},{"y":-0.6,"w":1.8,"a":32},{"y":-0.2,"w":1.8,"a":9},{"y":0.2,"w":1.8,"a":-2},{"y":0.6,"w":1.8,"a":49},{"y":1.0,"w":1.8,"a":94},{"y":1.4,"w":1.8,"a":100},{"y":1.8,"w":1.8,"a":100},{"y":2.2,"w":1.8,"a":100},{"y":2.6,"w":1.8,"a":99},
{"y":-2.6,"w":1.4,"a":73},{"y":-2.2,"w":1.4,"a":70},{"y":-1.8,"w":1.4,"a":65},{"y":-1.4,"w":1.4,"a":59},{"y":-1.0,"w":1.4,"a":48},{"y":-0.6,"w":1.4,"a":32},{"y":-0.2,"w":1.4,"a":10},{"y":0.2,"w":1.4,"a":-5},{"y":0.6,"w":1.4,"a":63},{"y":1.0,"w":1.4,"a":108},{"y":1.4,"w":1.4,"a":109},{"y":1.8,"w":1.4,"a":107},{"y":2.2,"w":1.4,"a":105},{"y":2.6,"w":1.4,"a":103},
{"y":-2.6,"w":1.0,"a":69},{"y":-2.2,"w":1.0,"a":66},{"y":-1.8,"w":1.0,"a":61},{"y":-1.4,"w":1.0,"a":54},{"y":-1.0,"w":1.0,"a":45},{"y":-0.6,"w":1.0,"a":31},{"y":-0.2,"w":1.0,"a":11},{"y":0.2,"w":1.0,"a":-11},{"y":0.6,"w":1.0,"a":149},{"y":1.0,"w":1.0,"a":135},{"y":1.4,"w":1.0,"a":125},{"y":1.8,"w":1.0,"a":119},{"y":2.2,"w":1.0,"a":114},{"y":2.6,"w":1.0,"a":111},
{"y":-2.6,"w":0.6,"a":62},{"y":-2.2,"w":0.6,"a":58},{"y":-1.8,"w":0.6,"a":54},{"y":-1.4,"w":0.6,"a":48},{"y":-1.0,"w":0.6,"a":40},{"y":-0.6,"w":0.6,"a":30},{"y":-0.2,"w":0.6,"a":14},{"y":0.2,"w":0.6,"a":-37},{"y":0.6,"w":0.6,"a":-164},{"y":1.0,"w":0.6,"a":172},{"y":1.4,"w":0.6,"a":156},{"y":1.8,"w":0.6,"a":145},{"y":2.2,"w":0.6,"a":137},{"y":2.6,"w":0.6,"a":130},
{"y":-2.6,"w":0.2,"a":45},{"y":-2.2,"w":0.2,"a":42},{"y":-1.8,"w":0.2,"a":39},{"y":-1.4,"w":0.2,"a":36},{"y":-1.0,"w":0.2,"a":32},{"y":-0.6,"w":0.2,"a":28},{"y":-0.2,"w":0.2,"a":20},{"y":0.2,"w":0.2,"a":-137},{"y":0.6,"w":0.2,"a":-155},{"y":1.0,"w":0.2,"a":-162},{"y":1.4,"w":0.2,"a":-167},{"y":1.8,"w":0.2,"a":-172},{"y":2.2,"w":0.2,"a":-176},{"y":2.6,"w":0.2,"a":179},
{"y":-2.6,"w":-0.2,"a":-1},{"y":-2.2,"w":-0.2,"a":4},{"y":-1.8,"w":-0.2,"a":8},{"y":-1.4,"w":-0.2,"a":13},{"y":-1.0,"w":-0.2,"a":18},{"y":-0.6,"w":-0.2,"a":25},{"y":-0.2,"w":-0.2,"a":43},{"y":0.2,"w":-0.2,"a":-160},{"y":0.6,"w":-0.2,"a":-152},{"y":1.0,"w":-0.2,"a":-148},{"y":1.4,"w":-0.2,"a":-144},{"y":1.8,"w":-0.2,"a":-141},{"y":2.2,"w":-0.2,"a":-138},{"y":2.6,"w":-0.2,"a":-135},
{"y":-2.6,"w":-0.6,"a":-50},{"y":-2.2,"w":-0.6,"a":-43},{"y":-1.8,"w":-0.6,"a":-35},{"y":-1.4,"w":-0.6,"a":-24},{"y":-1.0,"w":-0.6,"a":-8},{"y":-0.6,"w":-0.6,"a":16},{"y":-0.2,"w":-0.6,"a":143},{"y":0.2,"w":-0.6,"a":-166},{"y":0.6,"w":-0.6,"a":-150},{"y":1.0,"w":-0.6,"a":-140},{"y":1.4,"w":-0.6,"a":-132},{"y":1.8,"w":-0.6,"a":-126},{"y":2.2,"w":-0.6,"a":-122},{"y":2.6,"w":-0.6,"a":-118},
{"y":-2.6,"w":-1.0,"a":-69},{"y":-2.2,"w":-1.0,"a":-66},{"y":-1.8,"w":-1.0,"a":-61},{"y":-1.4,"w":-1.0,"a":-55},{"y":-1.0,"w":-1.0,"a":-45},{"y":-0.6,"w":-1.0,"a":-31},{"y":-0.2,"w":-1.0,"a":169},{"y":0.2,"w":-1.0,"a":-169},{"y":0.6,"w":-1.0,"a":-149},{"y":1.0,"w":-1.0,"a":-135},{"y":1.4,"w":-1.0,"a":-126},{"y":1.8,"w":-1.0,"a":-119},{"y":2.2,"w":-1.0,"a":-114},{"y":2.6,"w":-1.0,"a":-111},
{"y":-2.6,"w":-1.4,"a":-77},{"y":-2.2,"w":-1.4,"a":-75},{"y":-1.8,"w":-1.4,"a":-73},{"y":-1.4,"w":-1.4,"a":-71},{"y":-1.0,"w":-1.4,"a":-72},{"y":-0.6,"w":-1.4,"a":-117},{"y":-0.2,"w":-1.4,"a":175},{"y":0.2,"w":-1.4,"a":-170},{"y":0.6,"w":-1.4,"a":-148},{"y":1.0,"w":-1.4,"a":-132},{"y":1.4,"w":-1.4,"a":-121},{"y":1.8,"w":-1.4,"a":-115},{"y":2.2,"w":-1.4,"a":-110},{"y":2.6,"w":-1.4,"a":-107},
{"y":-2.6,"w":-1.8,"a":-81},{"y":-2.2,"w":-1.8,"a":-80},{"y":-1.8,"w":-1.8,"a":-80},{"y":-1.4,"w":-1.8,"a":-80},{"y":-1.0,"w":-1.8,"a":-86},{"y":-0.6,"w":-1.8,"a":-131},{"y":-0.2,"w":-1.8,"a":178},{"y":0.2,"w":-1.8,"a":-171},{"y":0.6,"w":-1.8,"a":-148},{"y":1.0,"w":-1.8,"a":-130},{"y":1.4,"w":-1.8,"a":-119},{"y":1.8,"w":-1.8,"a":-112},{"y":2.2,"w":-1.8,"a":-108},{"y":2.6,"w":-1.8,"a":-105},
{"y":-2.6,"w":-2.2,"a":-84},{"y":-2.2,"w":-2.2,"a":-83},{"y":-1.8,"w":-2.2,"a":-84},{"y":-1.4,"w":-2.2,"a":-85},{"y":-1.0,"w":-2.2,"a":-93},{"y":-0.6,"w":-2.2,"a":-136},{"y":-0.2,"w":-2.2,"a":179},{"y":0.2,"w":-2.2,"a":-172},{"y":0.6,"w":-2.2,"a":-147},{"y":1.0,"w":-2.2,"a":-128},{"y":1.4,"w":-2.2,"a":-117},{"y":1.8,"w":-2.2,"a":-110},{"y":2.2,"w":-2.2,"a":-106},{"y":2.6,"w":-2.2,"a":-103},
{"y":-2.6,"w":-2.6,"a":-85},{"y":-2.2,"w":-2.6,"a":-86},{"y":-1.8,"w":-2.6,"a":-86},{"y":-1.4,"w":-2.6,"a":-89},{"y":-1.0,"w":-2.6,"a":-98},{"y":-0.6,"w":-2.6,"a":-138},{"y":-0.2,"w":-2.6,"a":180},{"y":0.2,"w":-2.6,"a":-172},{"y":0.6,"w":-2.6,"a":-147},{"y":1.0,"w":-2.6,"a":-127},{"y":1.4,"w":-2.6,"a":-115},{"y":1.8,"w":-2.6,"a":-108},{"y":2.2,"w":-2.6,"a":-104},{"y":2.6,"w":-2.6,"a":-102}
],
"qM": [
{"y":-2.6,"w":2.6,"a":-4},{"y":-2.2,"w":2.6,"a":-4},{"y":-1.8,"w":2.6,"a":-3},{"y":-1.4,"w":2.6,"a":-3},{"y":-1.0,"w":2.6,"a":-2},{"y":-0.6,"w":2.6,"a":-2},{"y":-0.2,"w":2.6,"a":-1},{"y":0.2,"w":2.6,"a":33},{"y":0.6,"w":2.6,"a":70},{"y":1.0,"w":2.6,"a":85},{"y":1.4,"w":2.6,"a":91},{"y":1.8,"w":2.6,"a":95},{"y":2.2,"w":2.6,"a":98},{"y":2.6,"w":2.6,"a":99},
{"y":-2.6,"w":2.2,"a":-5},{"y":-2.2,"w":2.2,"a":-5},{"y":-1.8,"w":2.2,"a":-4},{"y":-1.4,"w":2.2,"a":-4},{"y":-1.0,"w":2.2,"a":-3},{"y":-0.6,"w":2.2,"a":-2},{"y":-0.2,"w":2.2,"a":-1},{"y":0.2,"w":2.2,"a":29},{"y":0.6,"w":2.2,"a":72},{"y":1.0,"w":2.2,"a":88},{"y":1.4,"w":2.2,"a":95},{"y":1.8,"w":2.2,"a":99},{"y":2.2,"w":2.2,"a":101},{"y":2.6,"w":2.2,"a":103},
{"y":-2.6,"w":1.8,"a":-6},{"y":-2.2,"w":1.8,"a":-6},{"y":-1.8,"w":1.8,"a":-6},{"y":-1.4,"w":1.8,"a":-5},{"y":-1.0,"w":1.8,"a":-5},{"y":-0.6,"w":1.8,"a":-3},{"y":-0.2,"w":1.8,"a":-2},{"y":0.2,"w":1.8,"a":30},{"y":0.6,"w":1.8,"a":76},{"y":1.0,"w":1.8,"a":93},{"y":1.4,"w":1.8,"a":100},{"y":1.8,"w":1.8,"a":104},{"y":2.2,"w":1.8,"a":106},{"y":2.6,"w":1.8,"a":108},
{"y":-2.6,"w":1.4,"a":-6},{"y":-2.2,"w":1.4,"a":-5},{"y":-1.8,"w":1.4,"a":-4},{"y":-1.4,"w":1.4,"a":-2},{"y":-1.0,"w":1.4,"a":0},{"y":-0.6,"w":1.4,"a":25},{"y":-0.2,"w":1.4,"a":54},{"y":0.2,"w":1.4,"a":75},{"y":0.6,"w":1.4,"a":88},{"y":1.0,"w":1.4,"a":95},{"y":1.4,"w":1.4,"a":100},{"y":1.8,"w":1.4,"a":104},{"y":2.2,"w":1.4,"a":106},{"y":2.6,"w":1.4,"a":108},
{"y":-2.6,"w":1.0,"a":-9},{"y":-2.2,"w":1.0,"a":-8},{"y":-1.8,"w":1.0,"a":-6},{"y":-1.4,"w":1.0,"a":-4},{"y":-1.0,"w":1.0,"a":-1},{"y":-0.6,"w":1.0,"a":19},{"y":-0.2,"w":1.0,"a":51},{"y":0.2,"w":1.0,"a":77},{"y":0.6,"w":1.0,"a":93},{"y":1.0,"w":1.0,"a":102},{"y":1.4,"w":1.0,"a":108},{"y":1.8,"w":1.0,"a":112},{"y":2.2,"w":1.0,"a":114},{"y":2.6,"w":1.0,"a":116},
{"y":-2.6,"w":0.6,"a":-14},{"y":-2.2,"w":0.6,"a":-13},{"y":-1.8,"w":0.6,"a":-11},{"y":-1.4,"w":0.6,"a":-9},{"y":-1.0,"w":0.6,"a":-4},{"y":-0.6,"w":0.6,"a":8},{"y":-0.2,"w":0.6,"a":44},{"y":0.2,"w":0.6,"a":83},{"y":0.6,"w":0.6,"a":104},{"y":1.0,"w":0.6,"a":114},{"y":1.4,"w":0.6,"a":120},{"y":1.8,"w":0.6,"a":123},{"y":2.2,"w":0.6,"a":126},{"y":2.6,"w":0.6,"a":128},
{"y":-2.6,"w":0.2,"a":-21},{"y":-2.2,"w":0.2,"a":-20},{"y":-1.8,"w":0.2,"a":-18},{"y":-1.4,"w":0.2,"a":-16},{"y":-1.0,"w":0.2,"a":-11},{"y":-0.6,"w":0.2,"a":-2},{"y":-0.2,"w":0.2,"a":40},{"y":0.2,"w":0.2,"a":101},{"y":0.6,"w":0.2,"a":122},{"y":1.0,"w":0.2,"a":130},{"y":1.4,"w":0.2,"a":134},{"y":1.8,"w":0.2,"a":136},{"y":2.2,"w":0.2,"a":137},{"y":2.6,"w":0.2,"a":139},
{"y":-2.6,"w":-0.2,"a":-28},{"y":-2.2,"w":-0.2,"a":-27},{"y":-1.8,"w":-0.2,"a":-27},{"y":-1.4,"w":-0.2,"a":-25},{"y":-1.0,"w":-0.2,"a":-22},{"y":-0.6,"w":-0.2,"a":-15},{"y":-0.2,"w":-0.2,"a":48},{"y":0.2,"w":-0.2,"a":131},{"y":0.6,"w":-0.2,"a":140},{"y":1.0,"w":-0.2,"a":143},{"y":1.4,"w":-0.2,"a":145},{"y":1.8,"w":-0.2,"a":145},{"y":2.2,"w":-0.2,"a":146},{"y":2.6,"w":-0.2,"a":147},
{"y":-2.6,"w":-0.6,"a":-40},{"y":-2.2,"w":-0.6,"a":-40},{"y":-1.8,"w":-0.6,"a":-40},{"y":-1.4,"w":-0.6,"a":-41},{"y":-1.0,"w":-0.6,"a":-42},{"y":-0.6,"w":-0.6,"a":-47},{"y":-0.2,"w":-0.6,"a":180},{"y":0.2,"w":-0.6,"a":158},{"y":0.6,"w":-0.6,"a":156},{"y":1.0,"w":-0.6,"a":155},{"y":1.4,"w":-0.6,"a":155},{"y":1.8,"w":-0.6,"a":155},{"y":2.2,"w":-0.6,"a":154},{"y":2.6,"w":-0.6,"a":154},
{"y":-2.6,"w":-1.0,"a":-49},{"y":-2.2,"w":-1.0,"a":-50},{"y":-1.8,"w":-1.0,"a":-52},{"y":-1.4,"w":-1.0,"a":-55},{"y":-1.0,"w":-1.0,"a":-62},{"y":-0.6,"w":-1.0,"a":-80},{"y":-0.2,"w":-1.0,"a":-145},{"y":0.2,"w":-1.0,"a":174},{"y":0.6,"w":-1.0,"a":168},{"y":1.0,"w":-1.0,"a":165},{"y":1.4,"w":-1.0,"a":164},{"y":1.8,"w":-1.0,"a":163},{"y":2.2,"w":-1.0,"a":162},{"y":2.6,"w":-1.0,"a":162},
{"y":-2.6,"w":-1.4,"a":-57},{"y":-2.2,"w":-1.4,"a":-59},{"y":-1.8,"w":-1.4,"a":-62},{"y":-1.4,"w":-1.4,"a":-67},{"y":-1.0,"w":-1.4,"a":-77},{"y":-0.6,"w":-1.4,"a":-97},{"y":-0.2,"w":-1.4,"a":-137},{"y":0.2,"w":-1.4,"a":-176},{"y":0.6,"w":-1.4,"a":176},{"y":1.0,"w":-1.4,"a":173},{"y":1.4,"w":-1.4,"a":171},{"y":1.8,"w":-1.4,"a":170},{"y":2.2,"w":-1.4,"a":169},{"y":2.6,"w":-1.4,"a":168},
{"y":-2.6,"w":-1.8,"a":-63},{"y":-2.2,"w":-1.8,"a":-66},{"y":-1.8,"w":-1.8,"a":-70},{"y":-1.4,"w":-1.8,"a":-76},{"y":-1.0,"w":-1.8,"a":-86},{"y":-0.6,"w":-1.8,"a":-104},{"y":-0.2,"w":-1.8,"a":-133},{"y":0.2,"w":-1.8,"a":-163},{"y":0.6,"w":-1.8,"a":179},{"y":1.0,"w":-1.8,"a":176},{"y":1.4,"w":-1.8,"a":175},{"y":1.8,"w":-1.8,"a":173},{"y":2.2,"w":-1.8,"a":172},{"y":2.6,"w":-1.8,"a":172},
{"y":-2.6,"w":-2.2,"a":-68},{"y":-2.2,"w":-2.2,"a":-71},{"y":-1.8,"w":-2.2,"a":-76},{"y":-1.4,"w":-2.2,"a":-83},{"y":-1.0,"w":-2.2,"a":-93},{"y":-0.6,"w":-2.2,"a":-108},{"y":-0.2,"w":-2.2,"a":-130},{"y":0.2,"w":-2.2,"a":-155},{"y":0.6,"w":-2.2,"a":-174},{"y":1.0,"w":-2.2,"a":179},{"y":1.4,"w":-2.2,"a":177},{"y":1.8,"w":-2.2,"a":175},{"y":2.2,"w":-2.2,"a":174},{"y":2.6,"w":-2.2,"a":174},
{"y":-2.6,"w":-2.6,"a":-73},{"y":-2.2,"w":-2.6,"a":-77},{"y":-1.8,"w":-2.6,"a":-82},{"y":-1.4,"w":-2.6,"a":-88},{"y":-1.0,"w":-2.6,"a":-97},{"y":-0.6,"w":-2.6,"a":-110},{"y":-0.2,"w":-2.6,"a":-127},{"y":0.2,"w":-2.6,"a":-147},{"y":0.6,"w":-2.6,"a":-166},{"y":1.0,"w":-2.6,"a":180},{"y":1.4,"w":-2.6,"a":178},{"y":1.8,"w":-2.6,"a":177},{"y":2.2,"w":-2.6,"a":176},{"y":2.6,"w":-2.6,"a":175}
],
"ncO": [
{"c":"a","i":0,"y":-1.5,"w":-3},{"c":"a","i":1,"y":1.5,"w":3},
{"c":"b","i":0,"y":-3.0,"w":-0.17},{"c":"b","i":1,"y":-2.5,"w":-0.2},{"c":"b","i":2,"y":-2.0,"w":-0.25},{"c":"b","i":3,"y":-1.5,"w":-0.33},{"c":"b","i":4,"y":-1.0,"w":-0.5},{"c":"b","i":5,"y":-0.75,"w":-0.67},{"c":"b","i":6,"y":-0.55,"w":-0.91},{"c":"b","i":7,"y":-0.42,"w":-1.2},{"c":"b","i":8,"y":-0.32,"w":-1.6},{"c":"b","i":9,"y":-0.25,"w":-2.0},{"c":"b","i":10,"y":-0.2,"w":-2.35},{"c":"b","i":11,"y":-0.16,"w":-2.55},{"c":"b","i":12,"y":-0.11,"w":-2.6},{"c":"b","i":13,"y":-0.07,"w":-2.45},{"c":"b","i":14,"y":-0.05,"w":-1.8},{"c":"b","i":15,"y":-0.03,"w":-1.0},{"c":"b","i":16,"y":0.0,"w":0.0},{"c":"b","i":17,"y":0.03,"w":1.0},{"c":"b","i":18,"y":0.05,"w":1.8},{"c":"b","i":19,"y":0.07,"w":2.45},{"c":"b","i":20,"y":0.11,"w":2.8},{"c":"b","i":21,"y":0.16,"w":2.75},{"c":"b","i":22,"y":0.2,"w":2.5},{"c":"b","i":23,"y":0.25,"w":2.0},{"c":"b","i":24,"y":0.32,"w":1.56},{"c":"b","i":25,"y":0.42,"w":1.19},{"c":"b","i":26,"y":0.5,"w":1.0},{"c":"b","i":27,"y":0.75,"w":0.67},{"c":"b","i":28,"y":1.0,"w":0.5},{"c":"b","i":29,"y":1.5,"w":0.33},{"c":"b","i":30,"y":2.0,"w":0.25},{"c":"b","i":31,"y":2.5,"w":0.2},{"c":"b","i":32,"y":2.85,"w":0.18}
],
"ncM": [
{"c":"a","i":0,"y":-1.5,"w":-3},{"c":"a","i":1,"y":1.5,"w":3},
{"c":"b","i":0,"y":-0.07,"w":2.9},{"c":"b","i":1,"y":-0.05,"w":2.4},{"c":"b","i":2,"y":0.02,"w":2.05},{"c":"b","i":3,"y":0.06,"w":1.85},{"c":"b","i":4,"y":0.0,"w":1.65},{"c":"b","i":5,"y":-0.15,"w":1.55},{"c":"b","i":6,"y":-0.5,"w":1.5},{"c":"b","i":7,"y":-0.85,"w":1.55},{"c":"b","i":8,"y":-1.02,"w":1.5},{"c":"b","i":9,"y":-1.08,"w":1.36},{"c":"b","i":10,"y":-1.0,"w":1.1},{"c":"b","i":11,"y":-0.85,"w":0.7},{"c":"b","i":12,"y":-0.69,"w":0.35},{"c":"b","i":13,"y":-0.5,"w":-0.05},{"c":"b","i":14,"y":-0.24,"w":-0.56},{"c":"b","i":15,"y":0.0,"w":-0.95},{"c":"b","i":16,"y":0.28,"w":-1.3},{"c":"b","i":17,"y":0.55,"w":-1.75},{"c":"b","i":18,"y":0.79,"w":-2.18},{"c":"b","i":19,"y":1.0,"w":-2.55},{"c":"b","i":20,"y":1.18,"w":-2.9}
],
"fpO": [{"y":0.0,"w":0.0},{"y":0.5,"w":1.0},{"y":-0.5,"w":-1.0}],
"fpM": [{"y":-0.26,"w":-0.52}]
},
"concat": [
{
  "width": 183, "height": 158,
  "title": {"text": "A", "dx": 16, "offset": -17, "baseline": "alphabetic"},
  "encoding": {
    "x": {"field": "x", "type": "quantitative", "scale": {"domain": [0, 100], "nice": false, "zero": false}, "axis": null},
    "y": {"field": "y", "type": "quantitative", "scale": {"domain": [0, 100], "nice": false, "zero": false, "reverse": true}, "axis": null}
  },
  "layer": [
    {"data": {"values": [{"t": "Oja's Rule", "x": 12.6, "y": 53.2}]},
     "mark": {"type": "text", "angle": 270, "fontSize": 18, "align": "center", "baseline": "middle", "color": "#000"},
     "encoding": {"text": {"field": "t"}}},
    {"data": {"values": [{"t": "Δωᵢⱼ = xᵢyⱼ − yⱼ²ωᵢⱼ", "x": 61.2, "y": 60.8}]},
     "mark": {"type": "text", "angle": 270, "font": "DejaVu Serif", "fontStyle": "italic", "fontSize": 17, "align": "center", "baseline": "middle", "color": "#000"},
     "encoding": {"text": {"field": "t"}}}
  ]
},
{
  "width": 323, "height": 158,
  "title": {"text": "B", "dx": -90, "offset": -17, "baseline": "alphabetic"},
  "encoding": {
    "x": {"field": "t", "type": "quantitative", "scale": {"domain": [-9.5, 209], "nice": false, "zero": false}, "axis": {"values": [10, 50, 200], "title": "Time [a.u.]"}},
    "y": {"field": "v", "type": "quantitative", "scale": {"domain": [-0.92, 0.92], "nice": false, "zero": false}, "axis": {"values": [-0.5, 0, 0.5], "format": ".1f", "title": "Postsynaptic activity"}}
  },
  "layer": [
    {"data": {"name": "vl"}, "mark": {"type": "rule", "color": "#9a9a9a", "strokeWidth": 3}, "encoding": {"y2": {"field": "v2"}}},
    {"data": {"name": "act"}, "mark": {"type": "line", "strokeWidth": 3.5, "interpolate": "monotone", "clip": true},
     "encoding": {
       "stroke": {"field": "m", "type": "nominal", "scale": {"domain": ["Oja's Rule", "Local MLP"], "range": ["#000000", "#1f77b4"]},
                  "legend": {"orient": "none", "legendX": 8, "legendY": 3, "direction": "horizontal", "title": null, "symbolType": "stroke", "symbolSize": 1369, "symbolStrokeWidth": 3.5, "labelFontSize": 17.5, "labelFont": "Liberation Sans", "labelColor": "#000", "labelOffset": 12, "columnPadding": 29}},
       "detail": {"field": "s", "type": "nominal"}
     }}
  ]
},
{
  "width": 161, "height": 158,
  "title": {"text": "C", "dx": -53, "offset": -17, "baseline": "alphabetic"},
  "data": {"name": "err"},
  "transform": [{"filter": "datum.m == 'O'"}],
  "mark": {"type": "line", "color": "#000", "strokeWidth": 3.5, "interpolate": "monotone"},
  "encoding": {
    "x": {"field": "t", "type": "quantitative", "scale": {"domain": [-9.5, 208.5], "nice": false, "zero": false}, "axis": {"values": [0, 50, 100, 150, 200], "title": "Time [a.u.]"}},
    "y": {"field": "v", "type": "quantitative", "scale": {"domain": [-0.1, 1.2], "nice": false, "zero": false}, "axis": {"values": [0, 0.5, 1], "labelExpr": "datum.value == 0 ? '0' : format(datum.value, '.1f')", "title": "||PC₁ − ω||", "titleFont": "DejaVu Sans", "titleFontStyle": "italic"}}
  }
},
{
  "width": 158, "height": 158,
  "title": {"text": "D", "dx": -29, "offset": -17, "baseline": "alphabetic"},
  "data": {"name": "hO"},
  "mark": {"type": "rect", "width": 10.2, "height": 10.2},
  "encoding": {
    "x": {"field": "x", "type": "quantitative", "scale": {"domain": [-2, 2], "nice": false, "zero": false}, "axis": {"values": [-2, 2], "format": "d", "offset": -79, "zindex": 1, "labelFlush": true, "tickSize": 3, "domainWidth": 1.2, "domainColor": "#222", "labelPadding": 1, "title": "x", "titleFont": "DejaVu Sans", "titleFontStyle": "italic", "titleFontSize": 18, "titleY": 96, "titleBaseline": "middle"}},
    "y": {"field": "y", "type": "quantitative", "scale": {"domain": [-2, 2], "nice": false, "zero": false}, "axis": {"values": [-2, 2], "format": "d", "offset": -79, "zindex": 1, "labelFlush": true, "tickSize": 3, "domainWidth": 1.2, "domainColor": "#222", "labelPadding": 1, "title": "y", "titleFont": "DejaVu Sans", "titleFontStyle": "italic", "titleFontSize": 18, "titleX": -102, "titleY": 79, "titleAngle": 270, "titleBaseline": "middle", "titleAlign": "center"}},
    "fill": {"field": "v", "type": "quantitative", "scale": {"scheme": "redblue", "domain": [-4, 4]}, "legend": null}
  }
},
{
  "width": 155, "height": 158,
  "title": {"text": "E", "dx": -45, "offset": -17, "baseline": "alphabetic"},
  "encoding": {
    "x": {"field": "y", "type": "quantitative", "scale": {"domain": [-3, 3], "nice": false, "zero": false}, "axis": {"values": [-3, 0, 3], "format": ".1f", "title": "y", "titleFont": "DejaVu Sans", "titleFontStyle": "italic", "titleFontSize": 18, "titlePadding": 2}},
    "y": {"field": "w", "type": "quantitative", "scale": {"domain": [-3, 3], "nice": false, "zero": false}, "axis": {"values": [-3, 0, 3], "format": ".1f", "title": "ω", "titleFont": "DejaVu Sans", "titleFontStyle": "italic", "titleFontSize": 18}}
  },
  "layer": [
    {"data": {"name": "qO"}, "mark": {"type": "point", "shape": "M-1,0L0.4,0M1,0L0.3,-0.32L0.3,0.32Z", "size": 48, "filled": true, "color": "#2a2a2a", "stroke": "#2a2a2a", "strokeWidth": 0.55, "opacity": 1},
     "encoding": {"angle": {"field": "a", "type": "quantitative", "scale": null}}},
    {"data": {"name": "ncO"}, "mark": {"type": "line", "color": "#808080", "strokeWidth": 3, "opacity": 0.85, "clip": true, "strokeCap": "round"},
     "encoding": {"detail": {"field": "c", "type": "nominal"}, "order": {"field": "i", "type": "quantitative"}}},
    {"data": {"name": "fpO"}, "mark": {"type": "circle", "size": 150, "color": "#df1515", "opacity": 0.85}},
    {"data": {"name": "fpO"}, "mark": {"type": "point", "shape": "M-1,-1L1,1M-1,1L1,-1", "size": 30, "filled": false, "stroke": "#3a0000", "strokeWidth": 1.2, "opacity": 0.8}}
  ]
},
{
  "width": 183, "height": 158,
  "encoding": {
    "x": {"field": "x", "type": "quantitative", "scale": {"domain": [0, 100], "nice": false, "zero": false}, "axis": null},
    "y": {"field": "y", "type": "quantitative", "scale": {"domain": [0, 100], "nice": false, "zero": false, "reverse": true}, "axis": null}
  },
  "resolve": {"scale": {"stroke": "independent", "fill": "independent"}},
  "layer": [
    {"data": {"values": [{"e": "1", "x": 36.4, "y": 31.6, "x2": 85.6, "y2": 58.4}, {"e": "2", "x": 36.4, "y": 58.4, "x2": 85.6, "y2": 58.4}, {"e": "3", "x": 36.4, "y": 85.4, "x2": 85.6, "y2": 58.4}]},
     "mark": {"type": "rule", "strokeWidth": 1},
     "encoding": {"x2": {"field": "x2"}, "y2": {"field": "y2"}, "stroke": {"field": "e", "type": "nominal", "scale": {"domain": ["1", "2", "3"], "range": ["#d58a8a", "#a8a8a8", "#5a5a5a"]}, "legend": null}}},
    {"data": {"values": [{"n": "x₁", "k": "on", "x": 36.4, "y": 31.6}, {"n": "x₂", "k": "off", "x": 36.4, "y": 58.4}, {"n": "x₃", "k": "off", "x": 36.4, "y": 85.4}, {"n": "y", "k": "on", "x": 85.6, "y": 58.4}]},
     "layer": [
       {"mark": {"type": "point", "shape": "circle", "size": 560, "filled": true, "strokeWidth": 1, "opacity": 1},
        "encoding": {"fill": {"field": "k", "type": "nominal", "scale": {"domain": ["on", "off"], "range": ["#f6c5c5", "#ffffff"]}, "legend": null},
                     "stroke": {"field": "k", "type": "nominal", "scale": {"domain": ["on", "off"], "range": ["#dd9f9f", "#555555"]}, "legend": null}}},
       {"mark": {"type": "text", "font": "DejaVu Serif", "fontStyle": "italic", "fontSize": 16, "align": "center", "baseline": "middle", "color": "#111"},
        "encoding": {"text": {"field": "n"}}}
     ]},
    {"data": {"values": [{"t": "ω₁", "x": 62.8, "y": 37.3}, {"t": "ω₂", "x": 59.2, "y": 52.7}, {"t": "ω₃", "x": 61.0, "y": 83.4}]},
     "mark": {"type": "text", "font": "DejaVu Serif", "fontStyle": "italic", "fontSize": 16, "align": "center", "baseline": "middle", "color": "#111"},
     "encoding": {"text": {"field": "t"}}},
    {"data": {"values": [{"t": "Local MLP", "x": 12.6, "y": 57.6}]},
     "mark": {"type": "text", "angle": 270, "fontSize": 20, "align": "center", "baseline": "middle", "color": "#000"},
     "encoding": {"text": {"field": "t"}}}
  ]
},
{
  "width": 323, "height": 153,
  "resolve": {"scale": {"x": "independent", "y": "independent"}, "axis": {"x": "independent", "y": "independent"}},
  "layer": [
    {
      "encoding": {
        "x": {"field": "o", "type": "quantitative", "scale": {"domain": [-3, 3], "range": [0, 153], "nice": false, "zero": false}, "axis": {"values": [-2, 0, 2], "format": ".1f", "title": "Oja's Rule", "orient": "bottom"}},
        "y": {"field": "l", "type": "quantitative", "scale": {"domain": [-3, 3], "nice": false, "zero": false}, "axis": {"values": [-2, 0, 2], "format": ".1f", "title": "Loc. MLP", "orient": "left"}}
      },
      "layer": [
        {"data": {"name": "sc"}, "transform": [{"filter": "datum.t == 10"}], "mark": {"type": "circle", "size": 80, "color": "#1f77b4", "opacity": 0.6}},
        {"data": {"name": "diag"}, "transform": [{"filter": "datum.t == 10"}], "mark": {"type": "line", "color": "#000", "strokeWidth": 1, "clip": true}},
        {"data": {"name": "stit"}, "transform": [{"filter": "datum.t == 10"}], "mark": {"type": "text", "fontSize": 16.5, "align": "center", "baseline": "middle", "color": "#000"}, "encoding": {"text": {"field": "txt"}}}
      ]
    },
    {
      "encoding": {
        "x": {"field": "o", "type": "quantitative", "scale": {"domain": [-3, 3], "range": [171, 323], "nice": false, "zero": false}, "axis": {"values": [-2, 0, 2], "format": ".1f", "title": "Oja's Rule", "orient": "bottom"}},
        "y": {"field": "l", "type": "quantitative", "scale": {"domain": [-3, 3], "nice": false, "zero": false}, "axis": {"values": [-2, 0, 2], "labels": false, "ticks": false, "title": null, "orient": "left", "offset": -171}}
      },
      "layer": [
        {"data": {"name": "sc"}, "transform": [{"filter": "datum.t == 50"}], "mark": {"type": "circle", "size": 80, "color": "#1f77b4", "opacity": 0.6}},
        {"data": {"name": "diag"}, "transform": [{"filter": "datum.t == 50"}], "mark": {"type": "line", "color": "#000", "strokeWidth": 1, "clip": true}},
        {"data": {"name": "stit"}, "transform": [{"filter": "datum.t == 50"}], "mark": {"type": "text", "fontSize": 16.5, "align": "center", "baseline": "middle", "color": "#000"}, "encoding": {"text": {"field": "txt"}}}
      ]
    }
  ]
},
{
  "width": 161, "height": 157,
  "encoding": {
    "x": {"field": "t", "type": "quantitative", "scale": {"domain": [-9.5, 208.5], "nice": false, "zero": false}, "axis": {"values": [0, 50, 100, 150, 200], "title": "Time [a.u.]"}},
    "y": {"field": "v", "type": "quantitative", "scale": {"domain": [-0.1, 1.2], "nice": false, "zero": false}, "axis": {"values": [0, 0.5, 1], "labelExpr": "datum.value == 0 ? '0' : format(datum.value, '.1f')", "title": "||PC₁ − ω||", "titleFont": "DejaVu Sans", "titleFontStyle": "italic"}}
  },
  "layer": [
    {"data": {"name": "err"}, "transform": [{"filter": "datum.m == 'O'"}], "mark": {"type": "line", "color": "#000", "strokeWidth": 3.5, "interpolate": "monotone"}},
    {"data": {"name": "err"}, "transform": [{"filter": "datum.m == 'M'"}], "mark": {"type": "line", "color": "#1f77b4", "strokeWidth": 3.5, "interpolate": "monotone"}}
  ]
},
{
  "width": 158, "height": 158,
  "data": {"name": "hM"},
  "mark": {"type": "rect", "width": 10.2, "height": 10.2},
  "encoding": {
    "x": {"field": "x", "type": "quantitative", "scale": {"domain": [-2, 2], "nice": false, "zero": false}, "axis": {"values": [-2, 2], "format": "d", "offset": -79, "zindex": 1, "labelFlush": true, "tickSize": 3, "domainWidth": 1.2, "domainColor": "#222", "labelPadding": 1, "title": "x", "titleFont": "DejaVu Sans", "titleFontStyle": "italic", "titleFontSize": 18, "titleY": 96, "titleBaseline": "middle"}},
    "y": {"field": "y", "type": "quantitative", "scale": {"domain": [-2, 2], "nice": false, "zero": false}, "axis": {"values": [-2, 2], "format": "d", "offset": -79, "zindex": 1, "labelFlush": true, "tickSize": 3, "domainWidth": 1.2, "domainColor": "#222", "labelPadding": 1, "title": "y", "titleFont": "DejaVu Sans", "titleFontStyle": "italic", "titleFontSize": 18, "titleX": -102, "titleY": 79, "titleAngle": 270, "titleBaseline": "middle", "titleAlign": "center"}},
    "fill": {"field": "v", "type": "quantitative", "scale": {"scheme": "redblue", "domain": [-4, 4]},
             "legend": {"orient": "none", "legendX": -3, "legendY": 194, "direction": "horizontal", "gradientLength": 161, "gradientThickness": 10, "gradientStrokeColor": "#222", "gradientStrokeWidth": 1, "values": [-4, 4], "labelExpr": "datum.value < 0 ? '−4' : '4'", "labelAlign": "center", "labelFontSize": 15, "labelFont": "Liberation Sans", "labelColor": "#111", "title": "Δω,  ω = 0.01", "titleOrient": "bottom", "titleAnchor": "middle", "titleFont": "DejaVu Sans", "titleFontSize": 17, "titleFontWeight": "normal", "titleColor": "#111"}}
  }
},
{
  "width": 155, "height": 158,
  "encoding": {
    "x": {"field": "y", "type": "quantitative", "scale": {"domain": [-3, 3], "nice": false, "zero": false}, "axis": {"values": [-3, 0, 3], "format": ".1f", "title": "y", "titleFont": "DejaVu Sans", "titleFontStyle": "italic", "titleFontSize": 18, "titlePadding": 2}},
    "y": {"field": "w", "type": "quantitative", "scale": {"domain": [-3, 3], "nice": false, "zero": false}, "axis": {"values": [-3, 0, 3], "format": ".1f", "title": "ω", "titleFont": "DejaVu Sans", "titleFontStyle": "italic", "titleFontSize": 18}}
  },
  "layer": [
    {"data": {"name": "qM"}, "mark": {"type": "point", "shape": "M-1,0L0.4,0M1,0L0.3,-0.32L0.3,0.32Z", "size": 48, "filled": true, "color": "#2a2a2a", "stroke": "#2a2a2a", "strokeWidth": 0.55, "opacity": 1},
     "encoding": {"angle": {"field": "a", "type": "quantitative", "scale": null}}},
    {"data": {"name": "ncM"}, "mark": {"type": "line", "color": "#808080", "strokeWidth": 3, "opacity": 0.85, "clip": true, "strokeCap": "round"},
     "encoding": {"detail": {"field": "c", "type": "nominal"}, "order": {"field": "i", "type": "quantitative"}}},
    {"data": {"name": "fpM"}, "mark": {"type": "circle", "size": 150, "color": "#df1515", "opacity": 0.85}},
    {"data": {"name": "fpM"}, "mark": {"type": "point", "shape": "M-1,-1L1,1M-1,1L1,-1", "size": 30, "filled": false, "stroke": "#3a0000", "strokeWidth": 1.2, "opacity": 0.8}}
  ]
}
]
}
